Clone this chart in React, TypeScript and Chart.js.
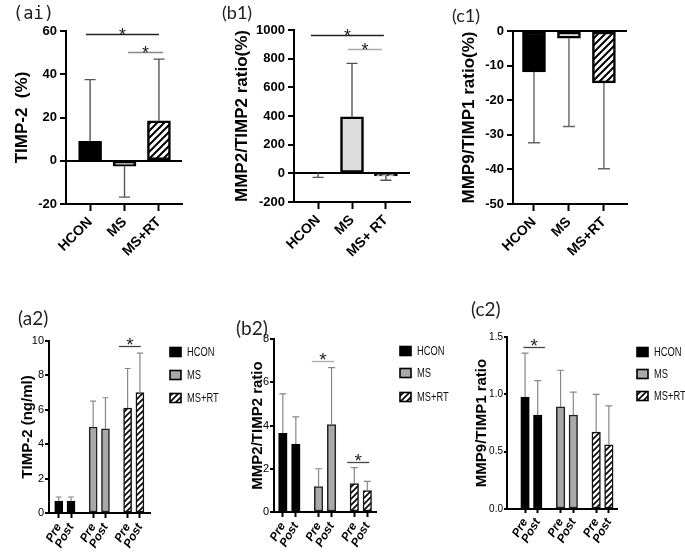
import React, { useEffect, useRef } from 'react';
import { Chart, registerables } from 'chart.js';

Chart.register(...registerables);

const SANS = "'Liberation Sans', Arial, Helvetica, sans-serif";
const NARROW = "'Liberation Sans Narrow', 'Arial Narrow', 'Liberation Sans', sans-serif";
const PANEL_FONT = "Lato, 'Open Sans', sans-serif";

// ---------------- data ----------------
const a1Groups = ['HCON', 'MS', 'MS+RT'];
const b1Groups = ['HCON', 'MS', 'MS+ RT'];
const c1Groups = ['HCON', 'MS', 'MS+RT'];
const legendNames = ['HCON', 'MS', 'MS+RT'];
const timeLabels = ['Pre', 'Post'];

const a1Ticks = [-20, 0, 20, 40, 60];
const a1Means = [9, -2.5, 18.5];
const a1ErrorEnds = [37.5, -16.8, 47];

const b1Ticks = [-200, 0, 200, 400, 600, 800, 1000];
const b1Means = [5, 395, -18];
const b1ErrorEnds = [-28, 767, -48];

const c1Ticks = [-50, -40, -30, -20, -10, 0];
const c1Means = [-11.8, -2.1, -15];
const c1ErrorEnds = [-32.3, -27.6, -39.8];

const a2Ticks = [0, 2, 4, 6, 8, 10];
const a2Hcon = [0.7, 0.7];
const a2HconErr = [0.93, 0.93];
const a2Ms = [5.0, 4.9];
const a2MsErr = [6.5, 6.7];
const a2Rt = [6.1, 7.0];
const a2RtErr = [8.4, 9.3];

const b2Ticks = [0, 2, 4, 6, 8];
const b2Hcon = [3.64, 3.14];
const b2HconErr = [5.46, 4.4];
const b2Ms = [1.17, 4.04];
const b2MsErr = [2.0, 6.68];
const b2Rt = [1.32, 0.99];
const b2RtErr = [2.05, 1.42];

const c2Ticks = [0, 0.5, 1.0, 1.5];
const c2Hcon = [0.975, 0.82];
const c2HconErr = [1.36, 1.12];
const c2Ms = [0.89, 0.82];
const c2MsErr = [1.21, 1.02];
const c2Rt = [0.67, 0.56];
const c2RtErr = [1.0, 0.9];

// significance markers: [from x, to x, level, colour]
const a1Sig: [number, number, number, string][] = [[-0.12, 2.0, 58.6, '#222'], [1.1, 2.12, 50.2, '#888']];
const b1Sig: [number, number, number, string][] = [[-0.21, 1.94, 965, '#222'], [0.88, 1.88, 867, '#aaa']];
const c1Sig: [number, number, number, string][] = [];
const a2Sig: [number, number, number, string][] = [[4.9, 6.67, 9.7, '#444']];
const b2Sig: [number, number, number, string][] = [[2.22, 3.94, 7.0, '#aaa'], [4.96, 6.65, 2.3, '#444']];
const c2Sig: [number, number, number, string][] = [[-0.13, 1.57, 1.41, '#444']];

// ---------------- helpers ----------------
type Series = { label: string; pos: number[]; values: number[]; errs: number[]; fill: string; border: string };

function topSeries(means: number[], errs: number[], msFill: string): Series[] {
  return [
    { label: legendNames[0], pos: [0], values: [means[0]], errs: [errs[0]], fill: '#000', border: '#000' },
    { label: legendNames[1], pos: [1], values: [means[1]], errs: [errs[1]], fill: msFill, border: '#000' },
    { label: legendNames[2], pos: [2], values: [means[2]], errs: [errs[2]], fill: 'hatch', border: '#000' },
  ];
}

function bottomSeries(G: number, h: number[], hE: number[], m: number[], mE: number[], r: number[], rE: number[]): Series[] {
  return [
    { label: legendNames[0], pos: [0, 1], values: h, errs: hE, fill: '#000', border: '#000' },
    { label: legendNames[1], pos: [G, G + 1], values: m, errs: mE, fill: '#a9a9a9', border: '#222' },
    { label: legendNames[2], pos: [2 * G, 2 * G + 1], values: r, errs: rE, fill: 'hatch', border: '#111' },
  ];
}

function bottomTickPos(G: number) {
  return [0, 1, G, G + 1, 2 * G, 2 * G + 1];
}
const bottomTickLabels = [0, 1, 2].flatMap(() => timeLabels);

function makeHatch(ctx: CanvasRenderingContext2D, size: number, lw: number) {
  const c = document.createElement('canvas');
  c.width = size;
  c.height = size;
  const g = c.getContext('2d')!;
  g.fillStyle = '#fff';
  g.fillRect(0, 0, size, size);
  g.strokeStyle = '#000';
  g.lineWidth = lw;
  g.beginPath();
  g.moveTo(0, size);
  g.lineTo(size, 0);
  g.moveTo(-size / 2, size / 2);
  g.lineTo(size / 2, -size / 2);
  g.moveTo(size / 2, size * 1.5);
  g.lineTo(size * 1.5, size / 2);
  g.stroke();
  return ctx.createPattern(c, 'repeat')!;
}

type Spec = {
  x: number; y: number; w: number; h: number;
  area: { l: number; t: number; r: number; b: number };
  xMin: number; xMax: number; xTicks: number[]; xLabels: string[]; xRot: number; xFont: any; xPad: number;
  yTicks: number[]; yDec: number; yFont: any; yPad: number;
  yTitle: string; yTitleFont: any; yTitlePad: number;
  zeroLine: boolean; axisW: number; tickLen: number;
  series: Series[]; barW: number; barBorder: number; hatchSize: number; hatchW: number;
  errColor: string; errW: number; cap: number;
  sig: [number, number, number, string][]; starFont: string; starOff: number;
  legend?: { x: number; ys: number[]; textX: number; font: string; bw: number; bh: number };
};

const TOP_TICK_FONT = { family: SANS, size: 13, weight: 'bold' };
const TOP_X_FONT = { family: SANS, size: 14, weight: 'bold' };
const TOP_TITLE_FONT = { family: SANS, size: 17, weight: 'bold' };
const BOT_TICK_FONT = { family: NARROW, size: 11 };
const BOT_X_FONT = { family: SANS, size: 12, weight: 'bold', style: 'italic' };

const specs: Spec[] = [
  {
    x: 0, y: 0, w: 215, h: 290, area: { l: 66, t: 31, r: 182, b: 204 },
    xMin: -0.7, xMax: 2.67, xTicks: [0, 1, 2], xLabels: a1Groups, xRot: 45, xFont: TOP_X_FONT, xPad: 3,
    yTicks: a1Ticks, yDec: 0, yFont: TOP_TICK_FONT, yPad: 3,
    yTitle: 'TIMP-2  (%)', yTitleFont: TOP_TITLE_FONT, yTitlePad: 12,
    zeroLine: true, axisW: 2, tickLen: 6,
    series: topSeries(a1Means, a1ErrorEnds, '#d4d4d4'), barW: 23, barBorder: 2.5, hatchSize: 7, hatchW: 2,
    errColor: '#555', errW: 1.4, cap: 5.5,
    sig: a1Sig, starFont: `18px ${SANS}`, starOff: 6,
  },
  {
    x: 220, y: 0, w: 230, h: 290, area: { l: 74, t: 30, r: 190, b: 202 },
    xMin: -0.71, xMax: 2.71, xTicks: [0, 1, 2], xLabels: b1Groups, xRot: 45, xFont: TOP_X_FONT, xPad: 3,
    yTicks: b1Ticks, yDec: 0, yFont: TOP_TICK_FONT, yPad: 3,
    yTitle: 'MMP2/TIMP2 ratio(%)', yTitleFont: TOP_TITLE_FONT, yTitlePad: 12,
    zeroLine: true, axisW: 2, tickLen: 6,
    series: topSeries(b1Means, b1ErrorEnds, '#dcdcdc'), barW: 23, barBorder: 2.5, hatchSize: 7, hatchW: 2,
    errColor: '#555', errW: 1.4, cap: 5.5,
    sig: b1Sig, starFont: `18px ${SANS}`, starOff: 6,
  },
  {
    x: 450, y: 0, w: 235, h: 290, area: { l: 63, t: 31, r: 177, b: 204 },
    xMin: -0.6, xMax: 2.66, xTicks: [0, 1, 2], xLabels: c1Groups, xRot: 45, xFont: TOP_X_FONT, xPad: 3,
    yTicks: c1Ticks, yDec: 0, yFont: TOP_TICK_FONT, yPad: 3,
    yTitle: 'MMP9/TIMP1 ratio(%)', yTitleFont: TOP_TITLE_FONT, yTitlePad: 9,
    zeroLine: true, axisW: 2, tickLen: 6,
    series: topSeries(c1Means, c1ErrorEnds, '#e0e0e0'), barW: 23, barBorder: 2.5, hatchSize: 7, hatchW: 2,
    errColor: '#666', errW: 1.4, cap: 6,
    sig: c1Sig, starFont: `18px ${SANS}`, starOff: 6,
  },
  {
    x: 0, y: 290, w: 230, h: 262, area: { l: 49, t: 51, r: 150, b: 223 },
    xMin: -0.79, xMax: 7.42, xTicks: bottomTickPos(2.8), xLabels: bottomTickLabels, xRot: 60, xFont: BOT_X_FONT, xPad: 3,
    yTicks: a2Ticks, yDec: 0, yFont: BOT_TICK_FONT, yPad: 1,
    yTitle: 'TIMP-2 (ng/ml)', yTitleFont: { family: SANS, size: 15, weight: 'bold' }, yTitlePad: 19,
    zeroLine: false, axisW: 2, tickLen: 4,
    series: bottomSeries(2.8, a2Hcon, a2HconErr, a2Ms, a2MsErr, a2Rt, a2RtErr), barW: 8, barBorder: 1.5, hatchSize: 6, hatchW: 1.6,
    errColor: '#888', errW: 1.2, cap: 3,
    sig: a2Sig, starFont: `19px ${SANS}`, starOff: 4,
    legend: { x: 170, ys: [62, 85, 108], textX: 187, font: `12px ${SANS}`, bw: 11, bh: 9 },
  },
  {
    x: 230, y: 290, w: 230, h: 262, area: { l: 44, t: 49, r: 146, b: 222 },
    xMin: -0.68, xMax: 7.17, xTicks: bottomTickPos(2.75), xLabels: bottomTickLabels, xRot: 60, xFont: BOT_X_FONT, xPad: 3,
    yTicks: b2Ticks, yDec: 0, yFont: BOT_TICK_FONT, yPad: 1,
    yTitle: 'MMP2/TIMP2 ratio', yTitleFont: { family: SANS, size: 15, weight: 'bold' }, yTitlePad: 19,
    zeroLine: false, axisW: 2, tickLen: 4,
    series: bottomSeries(2.75, b2Hcon, b2HconErr, b2Ms, b2MsErr, b2Rt, b2RtErr), barW: 8.5, barBorder: 1.5, hatchSize: 6, hatchW: 1.6,
    errColor: '#888', errW: 1.2, cap: 3.5,
    sig: b2Sig, starFont: `19px ${SANS}`, starOff: 4,
    legend: { x: 170, ys: [61, 83, 107], textX: 187, font: `12px ${SANS}`, bw: 11, bh: 9 },
  },
  {
    x: 460, y: 290, w: 225, h: 262, area: { l: 47, t: 47, r: 157, b: 219 },
    xMin: -1.42, xMax: 7.24, xTicks: bottomTickPos(2.8), xLabels: bottomTickLabels, xRot: 60, xFont: BOT_X_FONT, xPad: 3,
    yTicks: c2Ticks, yDec: 1, yFont: { family: NARROW, size: 10 }, yPad: 1,
    yTitle: 'MMP9/TIMP1 ratio', yTitleFont: { family: SANS, size: 15, weight: 'bold' }, yTitlePad: 13,
    zeroLine: false, axisW: 2, tickLen: 3,
    series: bottomSeries(2.8, c2Hcon, c2HconErr, c2Ms, c2MsErr, c2Rt, c2RtErr), barW: 8.5, barBorder: 1.5, hatchSize: 6, hatchW: 1.6,
    errColor: '#888', errW: 1.2, cap: 3.5,
    sig: c2Sig, starFont: `19px ${SANS}`, starOff: 4,
    legend: { x: 177, ys: [62, 84, 106], textX: 194, font: `12px ${SANS}`, bw: 11, bh: 9 },
  },
];

function buildChart(canvas: HTMLCanvasElement, s: Spec) {
  const ctx2d = canvas.getContext('2d')!;
  const hatch = makeHatch(ctx2d, s.hatchSize, s.hatchW);
  const fillOf = (f: string) => (f === 'hatch' ? hatch : f);

  const datasets = s.series.map((se) => ({
    label: se.label,
    data: se.pos.map((p, i) => ({ x: p, y: se.values[i] })),
    errEnds: se.errs,
    backgroundColor: fillOf(se.fill),
    borderColor: se.border,
    borderWidth: s.barBorder,
    borderSkipped: false,
    barThickness: s.barW,
    grouped: false,
  }));

  const decor = {
    id: 'decor',
    afterDatasetsDraw(chart: any) {
      const ctx: CanvasRenderingContext2D = chart.ctx;
      const xs = chart.scales.x;
      const ys = chart.scales.y;
      ctx.save();
      // error bars
      chart.data.datasets.forEach((ds: any, i: number) => {
        const meta = chart.getDatasetMeta(i);
        meta.data.forEach((el: any, j: number) => {
          const ey = ys.getPixelForValue(ds.errEnds[j]);
          ctx.strokeStyle = s.errColor;
          ctx.lineWidth = s.errW;
          ctx.beginPath();
          ctx.moveTo(el.x, el.y);
          ctx.lineTo(el.x, ey);
          ctx.moveTo(el.x - s.cap, ey);
          ctx.lineTo(el.x + s.cap, ey);
          ctx.stroke();
        });
      });
      // significance lines
      s.sig.forEach(([from, to, level, color]) => {
        const x1 = xs.getPixelForValue(from);
        const x2 = xs.getPixelForValue(to);
        const y = Math.round(ys.getPixelForValue(level)) + 0.5;
        ctx.strokeStyle = color;
        ctx.lineWidth = 1.3;
        ctx.beginPath();
        ctx.moveTo(x1, y);
        ctx.lineTo(x2, y);
        ctx.stroke();
        ctx.fillStyle = '#222';
        ctx.font = s.starFont;
        ctx.textAlign = 'center';
        ctx.textBaseline = 'alphabetic';
        ctx.fillText('*', (x1 + x2) / 2, y + s.starOff);
      });
      // legend (drawn slightly condensed)
      if (s.legend) {
        const L = s.legend;
        s.series.forEach((se, k) => {
          const cy = L.ys[k];
          ctx.fillStyle = fillOf(se.fill) as any;
          ctx.fillRect(L.x, cy - L.bh / 2, L.bw, L.bh);
          ctx.strokeStyle = '#000';
          ctx.lineWidth = 1.6;
          ctx.strokeRect(L.x, cy - L.bh / 2, L.bw, L.bh);
          ctx.save();
          ctx.translate(L.textX, cy + 0.5);
          ctx.scale(0.78, 1);
          ctx.fillStyle = '#111';
          ctx.font = L.font;
          ctx.textAlign = 'left';
          ctx.textBaseline = 'middle';
          ctx.fillText(se.label, 0, 0);
          ctx.restore();
        });
      }
      ctx.restore();
    },
  };

  return new Chart(canvas, {
    type: 'bar',
    data: { datasets } as any,
    options: {
      responsive: false,
      animation: false,
      devicePixelRatio: 1,
      events: [],
      layout: { padding: { left: 0, top: s.area.t, right: s.w - s.area.r, bottom: 0 } },
      plugins: { legend: { display: false }, tooltip: { enabled: false } },
      scales: {
        x: {
          type: 'linear',
          offset: false,
          min: s.xMin,
          max: s.xMax,
          afterBuildTicks: (ax: any) => {
            ax.ticks = s.xTicks.map((v) => ({ value: v }));
          },
          afterFit: (ax: any) => {
            ax.height = s.h - s.area.b;
            ax.paddingLeft = 0;
            ax.paddingRight = 0;
          },
          ticks: {
            autoSkip: false,
            minRotation: s.xRot,
            maxRotation: s.xRot,
            padding: s.xPad,
            color: '#000',
            font: s.xFont,
            callback: (_v: any, i: number) => s.xLabels[i],
          },
          grid: {
            offset: false,
            drawOnChartArea: false,
            color: 'rgba(0,0,0,0)',
            tickLength: s.tickLen + 1,
            tickWidth: s.axisW,
            tickColor: '#000',
          },
          border: { display: true, color: '#000', width: s.axisW },
        },
        y: {
          type: 'linear',
          min: s.yTicks[0],
          max: s.yTicks[s.yTicks.length - 1],
          afterBuildTicks: (ax: any) => {
            ax.ticks = s.yTicks.map((v) => ({ value: v }));
          },
          afterFit: (ax: any) => {
            ax.width = s.area.l;
            ax.paddingTop = 0;
            ax.paddingBottom = 0;
          },
          ticks: {
            color: '#000',
            font: s.yFont,
            padding: s.yPad,
            callback: (v: any) => Number(v).toFixed(s.yDec),
          },
          grid: {
            drawOnChartArea: s.zeroLine,
            color: (c: any) => (c.tick && c.tick.value === 0 ? '#000' : 'rgba(0,0,0,0)'),
            lineWidth: s.axisW,
            tickLength: s.tickLen,
            tickWidth: s.axisW,
            tickColor: '#000',
          },
          border: { display: true, color: '#000', width: s.axisW },
          title: {
            display: true,
            text: s.yTitle,
            color: '#000',
            font: s.yTitleFont,
            padding: { top: s.yTitlePad, bottom: 0 },
          },
        },
      },
    } as any,
    plugins: [decor],
  });
}

function Panel({ spec }: { spec: Spec }) {
  const ref = useRef<HTMLCanvasElement>(null);
  useEffect(() => {
    const chart = buildChart(ref.current!, spec);
    return () => chart.destroy();
  }, [spec]);
  return (
    <canvas
      ref={ref}
      width={spec.w}
      height={spec.h}
      style={{ position: 'absolute', left: spec.x, top: spec.y, width: spec.w, height: spec.h }}
    />
  );
}

const panelTags = [
  { text: '(ai)', x: 13, y: 3, font: "17px 'DejaVu Sans Mono', monospace" },
  { text: '(b1)', x: 222, y: 2, font: `18px ${PANEL_FONT}` },
  { text: '(c1)', x: 452, y: 5, font: `18px ${PANEL_FONT}` },
  { text: '(a2)', x: 18, y: 308, font: `19px ${PANEL_FONT}` },
  { text: '(b2)', x: 236, y: 318, font: `19px ${PANEL_FONT}` },
  { text: '(c2)', x: 471, y: 299, font: `19px ${PANEL_FONT}` },
];

export default function App() {
  return (
    <div style={{ position: 'fixed', left: 0, top: 0, width: 685, height: 552, background: '#fff', overflow: 'hidden' }}>
      {specs.map((s, i) => (
        <Panel key={i} spec={s} />
      ))}
      {panelTags.map((t) => (
        <div
          key={t.text}
          style={{ position: 'absolute', left: t.x, top: t.y, font: t.font, lineHeight: '20px', color: '#222', whiteSpace: 'nowrap' }}
        >
          {t.text}
        </div>
      ))}
    </div>
  );
}
